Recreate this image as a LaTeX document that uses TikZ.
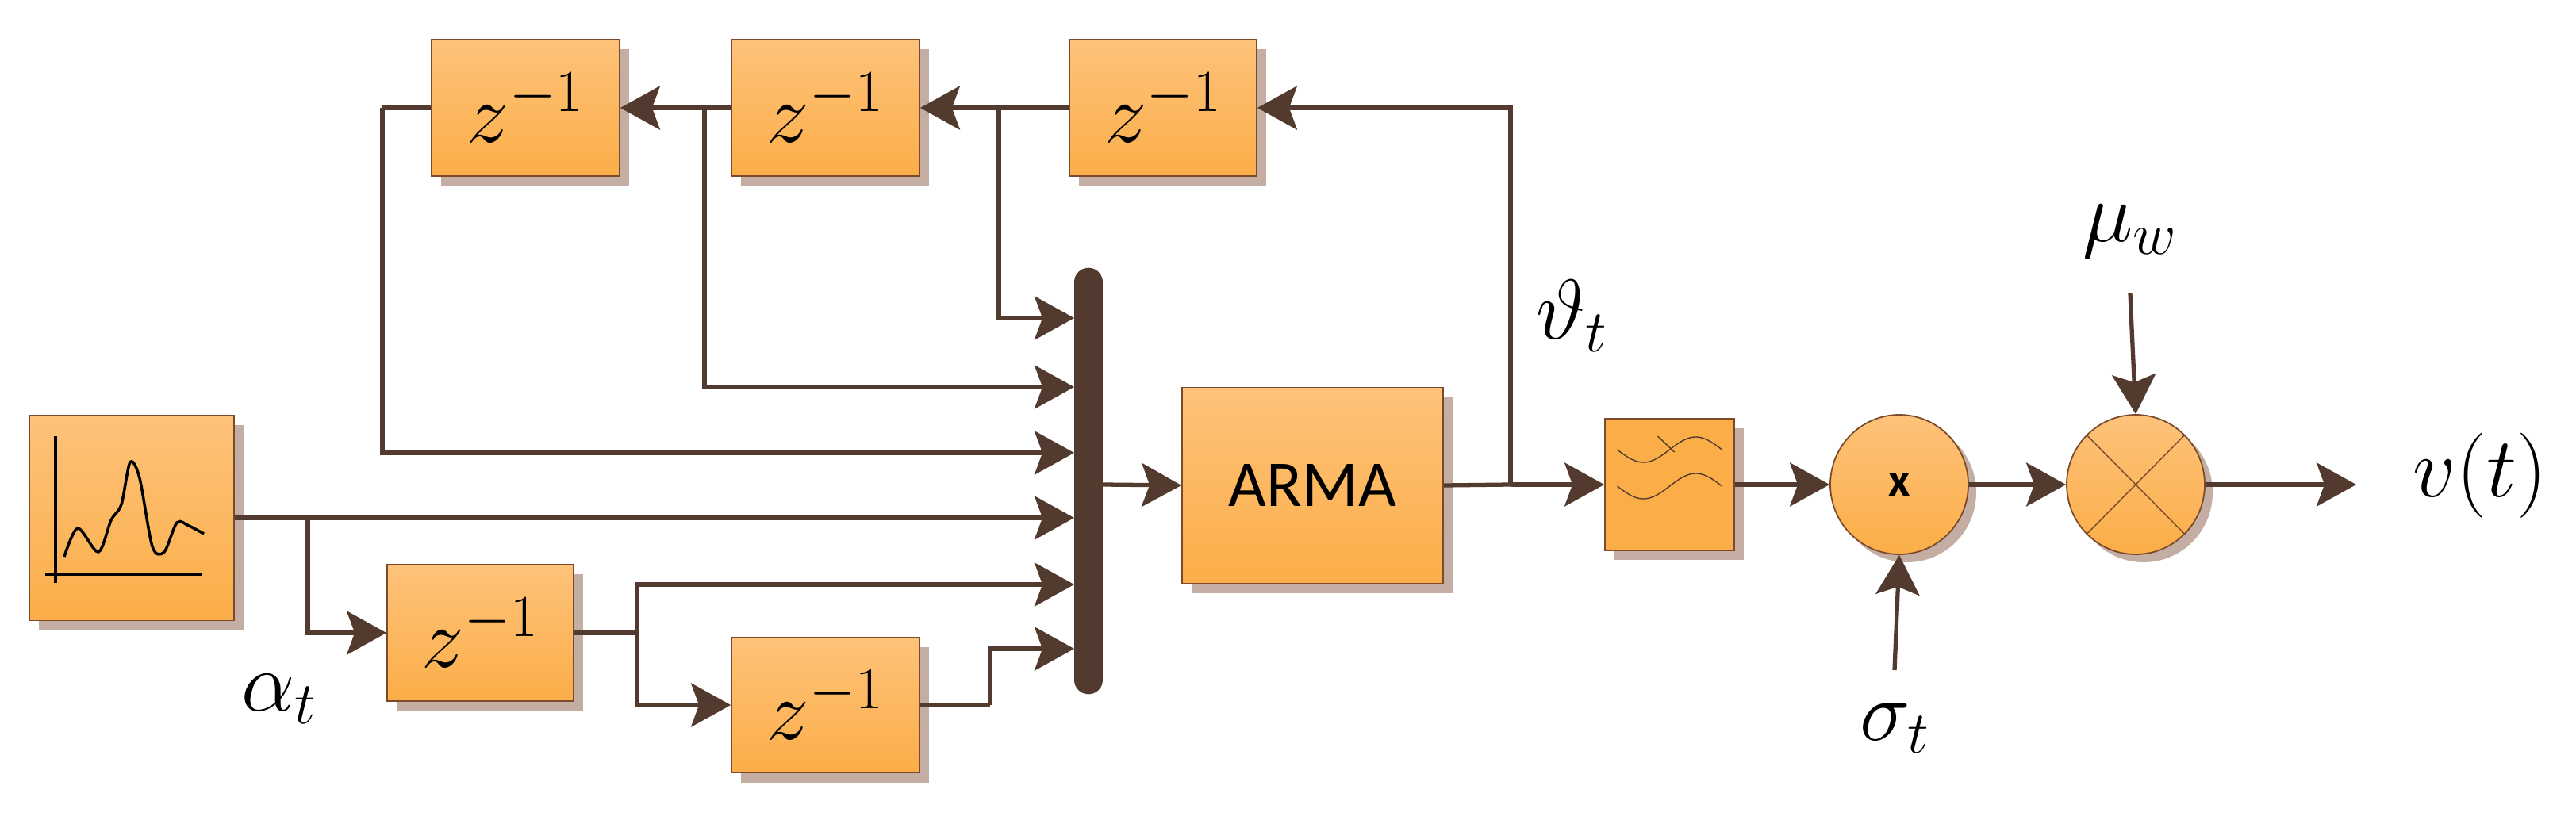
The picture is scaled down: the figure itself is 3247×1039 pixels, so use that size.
\RequirePackage{fix-cm}
\documentclass[tikz,border=0pt]{standalone}
\usepackage{fontspec}
\newfontfamily\carlito{Carlito}
\usetikzlibrary{arrows.meta,shapes.geometric,shadows,calc}
\definecolor{otop}{HTML}{FEC27A}
\definecolor{obot}{HTML}{FBAE48}
\definecolor{ln}{HTML}{523A2E}
\definecolor{shd}{HTML}{C4ADA2}
\definecolor{edg}{HTML}{7A4A2A}
\tikzset{
 box/.style n args={2}{rectangle, draw=edg, line width=1pt, top color=otop, bottom color=obot, inner sep=0pt,
   minimum width=#1*0.2mm, minimum height=#2*0.2mm,
   drop shadow={shadow xshift=2.4mm, shadow yshift=-2.4mm, fill=shd, opacity=1}},
 circ/.style={ellipse, draw=edg, line width=1pt, top color=otop, bottom color=obot, inner sep=0pt,
   minimum width=174*0.2mm, minimum height=176*0.2mm,
   drop shadow={shadow xshift=2mm, shadow yshift=-2mm, fill=shd, opacity=1}},
 wire/.style={draw=ln, line width=3pt},
 arr/.style={wire, -{Stealth[length=10mm, width=11mm, inset=2mm]}},
 zt/.style={font=\fontsize{61}{66}\selectfont},
 lab/.style={font=\fontsize{61}{66}\selectfont, inner sep=0pt},
}
\begin{document}
\begin{tikzpicture}[x=0.2mm,y=-0.2mm]
\useasboundingbox[fill=white] (0,0) rectangle (3247,1039);
% boxes
\node[box={237}{172}, zt] (zt1) at (662.5,136) {$z^{-1}$};
\node[box={237}{172}, zt] (zt2) at (1040.5,136) {$z^{-1}$};
\node[box={236}{172}, zt] (zt3) at (1466,136) {$z^{-1}$};
\node[box={235}{172}, zt] (zb1) at (605.5,798) {$z^{-1}$};
\node[box={237}{171}, zt] (zb2) at (1040.5,889) {$z^{-1}$};
\node[box={258}{259}] (sig) at (166,653) {};
\node[box={329}{247}, font=\carlito\fontsize{47}{52}\selectfont] (arma) at (1654.5,612) {ARMA};
\node[box={163}{166}, top color=obot] (filt) at (2104.5,611) {};
\node[circ, font=\carlito\bfseries\fontsize{34}{38}\selectfont] (mul) at (2394,611) {x};
\node[circ] (sum) at (2692,611) {};
\draw[edg, line width=0.8pt] (sum.north west) -- (sum.south east) (sum.north east) -- (sum.south west);
% signal icon
\draw[black, line width=2.5pt] (70,550) -- (70,735) (57,724) -- (254,724);
\draw[black, line width=2pt] plot[smooth] coordinates {(81,702) (98,666) (124,696) (140,656) (153,636) (164,583) (176,603) (192,689) (207,696) (223,659) (238,663) (257,673)};
% filter icon
\begin{scope}[shift={(filt.center)}]
\draw[ln, line width=0.8pt] plot[domain=-66:66, smooth, samples=30] (\x, {-44-16*sin(\x*180/66)});
\draw[ln, line width=0.8pt] plot[domain=-66:66, smooth, samples=30] (\x, {2-16*sin(\x*180/66)});
\draw[ln, line width=0.8pt] (-15,-61) -- (6,-41);
\end{scope}
% bus
\node[inner sep=0pt, minimum width=36*0.2mm, minimum height=537*0.2mm] (bus) at (1372,606.5) {};
\draw[ln, line width=36*0.2mm, line cap=round] ([yshift=-3.6mm]bus.north) -- ([yshift=3.6mm]bus.south);
% coordinates
\coordinate (j) at (1904,611);
\coordinate (b1) at (1354,401);
\coordinate (b2) at (1354,488);
\coordinate (b3) at (1354,571);
\coordinate (b4) at (1354,653);
\coordinate (b5) at (1354,737);
\coordinate (b6) at (1354,818);
\coordinate (out) at (2970,611);
\coordinate (muin) at (2685,370);
\coordinate (sgin) at (2388,845);
% wires
\draw[wire] (arma.east) -- (j);
\draw[arr] (j) |- (zt3.east);
\draw[arr] (j) -- (filt.west);
\draw[arr] (zt3.west) -- (zt2.east);
\draw[arr] (zt2.west) -- (zt1.east);
\draw[arr] (1259,136) |- (b1);
\draw[arr] (888,136) |- (b2);
\draw[wire] (zt1.west) -- (482,136);
\draw[arr] (482,136) |- (b3);
\draw[arr] (sig.east) -- (b4);
\draw[arr] (388,653) |- (zb1.west);
\draw[wire] (zb1.east) -- (803,798);
\draw[arr] (803,798) |- (b5);
\draw[arr] (803,798) |- (zb2.west);
\draw[wire] (zb2.east) -- (1248,889);
\draw[arr] (1248,889) |- (b6);
\draw[arr] (1390,611) -- (arma.west);
\draw[arr] (filt.east) -- (mul.west);
\draw[arr] (mul.east) -- (sum.west);
\draw[arr] (sum.east) -- (out);
\draw[arr] (muin) -- (sum.north);
\draw[arr] (sgin) -- (mul.south);
% labels
\node[lab] (la) at (352,881) {$\alpha_t$};
\node[lab] (lv) at (1981,398) {$\vartheta_t$};
\node[lab] (lm) at (2685,292) {$\mu_w$};
\node[lab] (ls) at (2388,918) {$\sigma_t$};
\node[lab] (lo) at (3126,600) {$v(t)$};
\end{tikzpicture}
\end{document}
